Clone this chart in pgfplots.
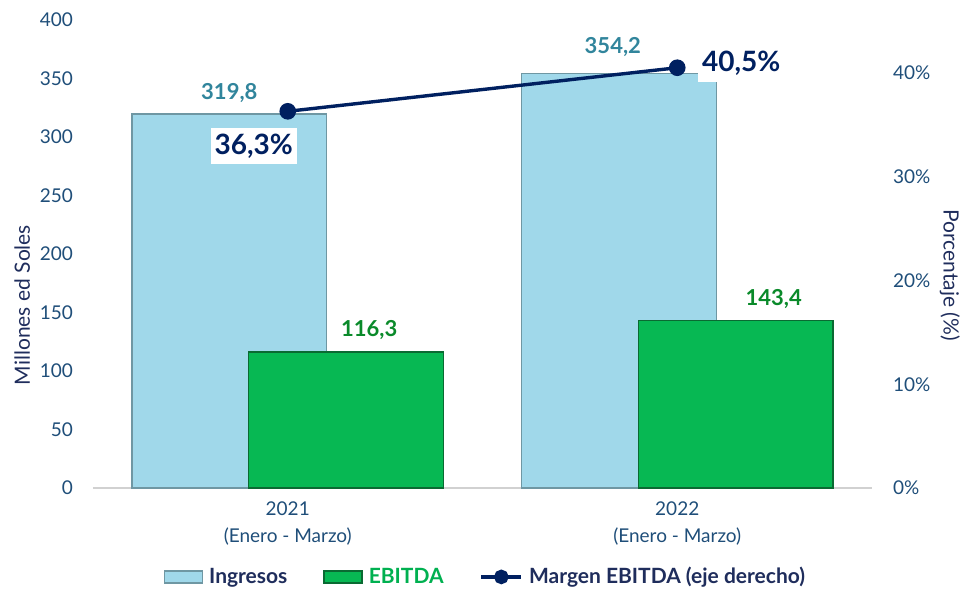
\documentclass[border=0pt]{standalone}
\usepackage{pgfplots}
\usepackage{pgfplotstable}
\pgfplotsset{compat=1.18}
\usepackage{fontspec}
\setmainfont{Lato}
\definecolor{tickblue}{HTML}{1F4E79}
\definecolor{titlenavy}{HTML}{1F2D5C}
\definecolor{ingfill}{HTML}{A0D8EA}
\definecolor{ingedge}{HTML}{6F97A3}
\definecolor{ingtext}{HTML}{31859C}
\definecolor{ebfill}{HTML}{07B853}
\definecolor{ebedge}{HTML}{0A6A32}
\definecolor{ebtext}{HTML}{0A8A2A}
\definecolor{eblegend}{HTML}{00B050}
\definecolor{linenavy}{HTML}{002060}

\pgfplotsset{
  mylinelegend/.style={legend image code/.code={\draw[mark repeat=2, mark phase=2, mark size=2.8pt, ##1] plot coordinates {(0pt,0pt) (10pt,0pt) (20pt,0pt)};}},
  mybarlegend/.style={legend image code/.code={\draw[##1] (0pt,-3pt) rectangle (19pt,3pt);}},
}

\pgfplotstableread{
x y dx dy
-0.15 319.8 0 5.5
0.85 354.2 -3 8.3
}\ingresos
\pgfplotstableread{
x y dx dy
0.15 116.3 11.5 6
1.15 143.4 19 5.5
}\ebitda
\pgfplotstableread{
x y dx dy
0 36.3 -17 -17.5
1 40.5 32 2
}\margen

\begin{document}
\begin{tikzpicture}
\useasboundingbox (0,0) rectangle (482.5pt,295pt);
\begin{axis}[
  at={(46.5pt,51pt)}, anchor=south west,
  scale only axis, width=389.5pt, height=234pt,
  xmin=-0.5, xmax=1.5, ymin=0, ymax=400,
  axis x line*=bottom, axis y line*=left,
  x axis line style={draw=black!18, line width=0.8pt, -},
  y axis line style={draw=none},
  major tick length=0pt,
  xtick={0,1},
  xticklabels={2021\\(Enero - Marzo), 2022\\(Enero - Marzo)},
  xticklabel style={align=center, font=\fontsize{9.5}{13.5}\selectfont, text=tickblue, yshift=-3.5pt},
  ytick={0,50,...,400},
  yticklabel style={font=\fontsize{9.5}{11}\selectfont, text=tickblue, xshift=-6.5pt},
  /pgf/number format/assume math mode=true,
  ylabel={Millones ed Soles},
  ylabel style={at={(axis description cs:-0.091,0.391)}, anchor=center, font=\fontsize{10.5}{12}\selectfont, text=titlenavy},
  clip=false,
]
\addplot[ybar, bar width=0.5, bar shift=0pt, fill=ingfill, draw=ingedge, line width=0.7pt,
  visualization depends on={\thisrow{dx} \as \dx},
  visualization depends on={\thisrow{dy} \as \dy},
  nodes near coords={\pgfmathprintnumber[use comma,fixed,fixed zerofill,precision=1]{\pgfplotspointmeta}},
  every node near coord/.append style={anchor=south, inner sep=0pt, xshift=\dx pt, yshift=\dy pt, font=\fontsize{11}{13}\selectfont\bfseries, text=ingtext},
  point meta=y] table[x=x,y=y] {\ingresos};
\addplot[ybar, bar width=0.5, bar shift=0pt, fill=ebfill, draw=ebedge, line width=0.7pt,
  visualization depends on={\thisrow{dx} \as \dx},
  visualization depends on={\thisrow{dy} \as \dy},
  nodes near coords={\pgfmathprintnumber[use comma,fixed,fixed zerofill,precision=1]{\pgfplotspointmeta}},
  every node near coord/.append style={anchor=south, inner sep=0pt, xshift=\dx pt, yshift=\dy pt, font=\fontsize{11}{13}\selectfont\bfseries, text=ebtext},
  point meta=y] table[x=x,y=y] {\ebitda};
\end{axis}
\begin{axis}[
  at={(46.5pt,51pt)}, anchor=south west,
  scale only axis, width=389.5pt, height=234pt,
  xmin=-0.5, xmax=1.5, ymin=0, ymax=45.1,
  axis x line=none, axis y line*=right,
  y axis line style={draw=none},
  major tick length=0pt,
  ytick={0,10,20,30,40},
  yticklabel={\pgfmathprintnumber{\tick}\%},
  yticklabel style={font=\fontsize{9.5}{11}\selectfont, text=tickblue, xshift=7pt},
  /pgf/number format/assume math mode=true,
  ylabel={Porcentaje (\%)},
  ylabel style={at={(axis description cs:1.10,0.455)}, anchor=center, rotate=180, font=\fontsize{10.5}{12}\selectfont, text=titlenavy},
  clip=false,
  legend columns=3,
  legend style={at={(0.505,-0.19)}, anchor=center, draw=none, fill=none,
    font=\fontsize{10.5}{12}\selectfont\bfseries,
    /tikz/every odd column/.append style={column sep=1pt},
    /tikz/every even column/.append style={column sep=16pt},
    inner sep=0pt},
]
\addlegendimage{mybarlegend, fill=ingfill, draw=ingedge, line width=0.7pt}
\addlegendentry{\textcolor{titlenavy}{Ingresos}}
\addlegendimage{mybarlegend, fill=ebfill, draw=ebedge, line width=0.7pt}
\addlegendentry{\textcolor{eblegend}{EBITDA}}
\addplot[linenavy, line width=1.7pt, mark=*, mark size=3.3pt,
  mark options={fill=linenavy},
  mylinelegend,
  visualization depends on={\thisrow{dx} \as \dx},
  visualization depends on={\thisrow{dy} \as \dy},
  nodes near coords={\pgfmathprintnumber[use comma,fixed,fixed zerofill,precision=1]{\pgfplotspointmeta}\%},
  every node near coord/.append style={anchor=center, fill=white, inner xsep=2pt, inner ysep=2.8pt, xshift=\dx pt, yshift=\dy pt, font=\fontsize{14}{17}\selectfont\bfseries, text=linenavy},
  point meta=y] table[x=x,y=y] {\margen};
\addlegendentry{\textcolor{titlenavy}{Margen EBITDA (eje derecho)}}
\end{axis}
\end{tikzpicture}
\end{document}
